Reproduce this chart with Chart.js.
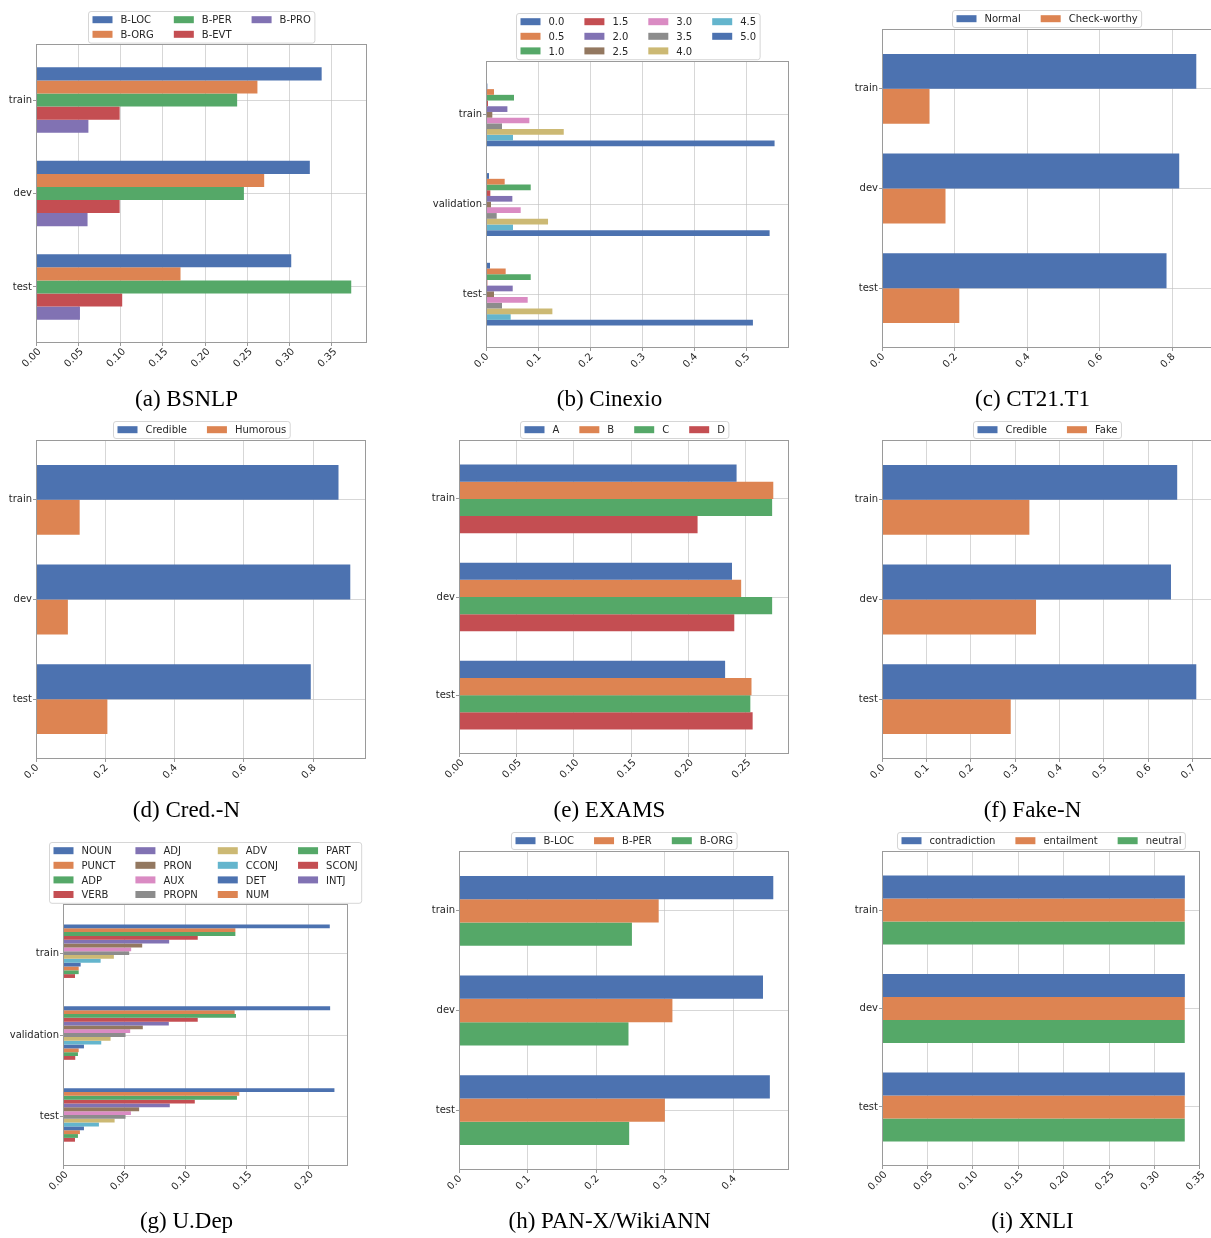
<!DOCTYPE html>
<html>
<head>
<meta charset="utf-8">
<script src="https://cdn.jsdelivr.net/npm/chart.js@4.4.1/dist/chart.umd.min.js"></script>
<style>
  html, body { margin: 0; padding: 0; background: #fff; width: 1211px; height: 1238px; overflow: hidden; position: relative; }
  canvas { position: absolute; }
  .cap { position: absolute; width: 400px; text-align: center; white-space: nowrap;
         font-family: "Liberation Serif", "Times New Roman", serif; font-size: 23px; line-height: 23px; color: #000; }
</style>
</head>
<body>
<script>
// ---------------- data: label share per split ----------------

// (a) BSNLP
const bsnlpSplits = ['train', 'dev', 'test'];
const bsnlpTags = ['B-LOC', 'B-ORG', 'B-PER', 'B-EVT', 'B-PRO'];
const bsnlpValues = [
  [0.338, 0.324, 0.302],
  [0.262, 0.270, 0.171],
  [0.238, 0.246, 0.373],
  [0.099, 0.099, 0.102],
  [0.062, 0.061, 0.052]
];

// (b) Cinexio
const cinexioSplits = ['train', 'validation', 'test'];
const cinexioScores = ['0.0', '0.5', '1.0', '1.5', '2.0', '2.5', '3.0', '3.5', '4.0', '4.5', '5.0'];
const cinexioValues = [
  [0.0026, 0.0058, 0.0077],
  [0.0153, 0.0358, 0.0377],
  [0.0537, 0.0857, 0.0857],
  [0.0038, 0.0083, 0.0026],
  [0.0410, 0.0505, 0.0512],
  [0.0121, 0.0096, 0.0153],
  [0.0831, 0.0665, 0.0799],
  [0.0307, 0.0205, 0.0307],
  [0.1490, 0.1189, 0.1272],
  [0.0518, 0.0518, 0.0473],
  [0.5530, 0.5435, 0.5115]
];

// (c) CT21.T1
const ct21Splits = ['train', 'dev', 'test'];
const ct21Classes = ['Normal', 'Check-worthy'];
const ct21Values = [
  [0.866, 0.819, 0.784],
  [0.131, 0.175, 0.213]
];

// (d) Cred.-N
const credSplits = ['train', 'dev', 'test'];
const credClasses = ['Credible', 'Humorous'];
const credValues = [
  [0.873, 0.907, 0.793],
  [0.126, 0.092, 0.206]
];

// (e) EXAMS
const examsSplits = ['train', 'dev', 'test'];
const examsAnswers = ['A', 'B', 'C', 'D'];
const examsValues = [
  [0.242, 0.238, 0.232],
  [0.274, 0.246, 0.255],
  [0.273, 0.273, 0.254],
  [0.208, 0.240, 0.256]
];

// (f) Fake-N
const fakeSplits = ['train', 'dev', 'test'];
const fakeClasses = ['Credible', 'Fake'];
const fakeValues = [
  [0.665, 0.651, 0.708],
  [0.332, 0.347, 0.290]
];

// (g) U.Dep
const udepSplits = ['train', 'validation', 'test'];
const udepTags = ['NOUN', 'PUNCT', 'ADP', 'VERB', 'ADJ', 'PRON', 'AUX', 'PROPN',
                  'ADV', 'CCONJ', 'DET', 'NUM', 'PART', 'SCONJ', 'INTJ'];
const udepValues = [
  [0.2176, 0.2179, 0.2214],
  [0.1406, 0.1400, 0.1438],
  [0.1406, 0.1411, 0.1419],
  [0.1099, 0.1099, 0.1075],
  [0.0866, 0.0863, 0.0871],
  [0.0646, 0.0651, 0.0621],
  [0.0556, 0.0548, 0.0554],
  [0.0540, 0.0510, 0.0510],
  [0.0415, 0.0388, 0.0421],
  [0.0307, 0.0312, 0.0293],
  [0.0144, 0.0171, 0.0171],
  [0.0128, 0.0128, 0.0138],
  [0.0128, 0.0122, 0.0122],
  [0.0098, 0.0100, 0.0098],
  [0.0003, 0.0005, 0.0008]
];

// (h) PAN-X/WikiANN
const panxSplits = ['train', 'dev', 'test'];
const panxTags = ['B-LOC', 'B-PER', 'B-ORG'];
const panxValues = [
  [0.458, 0.443, 0.453],
  [0.291, 0.311, 0.300],
  [0.252, 0.247, 0.248]
];

// (i) XNLI
const xnliSplits = ['train', 'dev', 'test'];
const xnliLabels = ['contradiction', 'entailment', 'neutral'];
const xnliValues = [
  [0.3334, 0.3334, 0.3334],
  [0.3333, 0.3333, 0.3333],
  [0.3333, 0.3333, 0.3333]
];

// ---------------- style ----------------
const PALETTE = ['#4C72B0', '#DD8452', '#55A868', '#C44E52', '#8172B3',
                 '#937860', '#DA8BC3', '#8C8C8C', '#CCB974', '#64B5CD'];
const FONT = "'DejaVu Sans', 'Liberation Sans', sans-serif";
const GRID = 'rgba(190,190,190,0.62)';
const SPINE = '#9a9a9a';
const TEXT = '#262626';
const PAD = { l: 80, t: 80, r: 16, b: 44 };

// legend box laid out column by column, placed just above the plot area
const legendPlugin = {
  id: 'mplLegend',
  afterDraw(chart, args, opts) {
    const ctx = chart.ctx, ca = chart.chartArea;
    const items = chart.data.datasets.map(d => ({ label: d.label, color: d.backgroundColor }));
    const ncol = opts.ncol || 1;
    const nrows = Math.ceil(items.length / ncol);
    ctx.save();
    ctx.font = '10px ' + FONT;
    const cols = [];
    for (let c = 0; c < ncol; c++) {
      const part = items.slice(c * nrows, (c + 1) * nrows);
      if (!part.length) break;
      cols.push({ items: part, w: Math.max(...part.map(it => ctx.measureText(it.label).width)) });
    }
    const HL = 20, HH = 7, HTP = 8, CS = 20, BP = 4, PITCH = 14.6;
    const W = 2 * BP + cols.reduce((s, c) => s + HL + HTP + c.w, 0) + (cols.length - 1) * CS;
    const H = 17 + (nrows - 1) * PITCH;
    const cx = (ca.left + ca.right) / 2;
    const x0 = Math.round(cx - W / 2) + 0.5;
    const y1 = ca.top - 1.7;
    const y0 = Math.round(y1 - H) + 0.5;
    ctx.beginPath();
    ctx.roundRect(x0, y0, W, H, 2.5);
    ctx.fillStyle = 'rgba(255,255,255,0.8)';
    ctx.fill();
    ctx.strokeStyle = 'rgba(204,204,204,0.8)';
    ctx.lineWidth = 1;
    ctx.stroke();
    let x = x0 + BP;
    cols.forEach(col => {
      col.items.forEach((it, r) => {
        const yc = y0 + 8.2 + r * PITCH;
        ctx.fillStyle = it.color;
        ctx.fillRect(x, yc - HH / 2, HL, HH);
        ctx.fillStyle = TEXT;
        ctx.textAlign = 'left';
        ctx.textBaseline = 'alphabetic';
        ctx.fillText(it.label, x + HL + HTP, yc + 3.65);
      });
      x += HL + HTP + col.w + CS;
    });
    ctx.restore();
  }
};

// four spines round the plot area
const framePlugin = {
  id: 'mplFrame',
  afterDraw(chart) {
    const { ctx, chartArea: a } = chart;
    ctx.save();
    ctx.strokeStyle = SPINE;
    ctx.lineWidth = 1;
    ctx.strokeRect(Math.round(a.left) + 0.5, Math.round(a.top) + 0.5,
                   Math.round(a.right - a.left) - 1, Math.round(a.bottom - a.top) - 1);
    ctx.restore();
  }
};

const measureCtx = document.createElement('canvas').getContext('2d');

function makePanel(frame, splits, series, values, opts) {
  const L = Math.round(frame.l), T = Math.round(frame.t), R = Math.round(frame.r), B = Math.round(frame.b);
  const w = R - L + PAD.l + PAD.r, h = B - T + PAD.t + PAD.b;
  const canvas = document.createElement('canvas');
  canvas.width = w; canvas.height = h;
  canvas.style.left = (L - PAD.l) + 'px';
  canvas.style.top = (T - PAD.t) + 'px';
  canvas.style.width = w + 'px';
  canvas.style.height = h + 'px';
  document.body.appendChild(canvas);

  const maxVal = Math.max(...values.flat());
  measureCtx.font = '10px ' + FONT;
  const sampleW = measureCtx.measureText((0).toFixed(opts.dec)).width;
  const shift = 0.354 * (sampleW - 12);

  const datasets = series.map((name, s) => ({
    label: name,
    data: splits.map((_, i) => ({ x: values[s][i], y: i })),
    backgroundColor: PALETTE[s % PALETTE.length],
    borderWidth: 0,
    categoryPercentage: 0.7,
    barPercentage: 1.0
  }));

  new Chart(canvas, {
    type: 'bar',
    data: { datasets },
    options: {
      indexAxis: 'y',
      responsive: false,
      animation: false,
      devicePixelRatio: 1,
      layout: { padding: { left: 0, top: PAD.t, right: PAD.r, bottom: 0 } },
      plugins: {
        legend: { display: false },
        tooltip: { enabled: false },
        mplLegend: { ncol: opts.ncol }
      },
      scales: {
        x: {
          type: 'linear', position: 'bottom', min: 0, max: maxVal * 1.05, z: 1,
          afterFit: s => { s.height = PAD.b; },
          border: { display: false },
          grid: { color: GRID, lineWidth: 1, tickLength: 3, tickColor: SPINE },
          ticks: {
            stepSize: opts.step, includeBounds: false, autoSkip: false,
            minRotation: 45, maxRotation: 45, padding: 0, labelOffset: shift,
            color: TEXT, font: { family: FONT, size: 10 },
            callback: v => Number(v).toFixed(opts.dec)
          }
        },
        y: {
          type: 'linear', min: -0.6, max: splits.length - 0.4, reverse: true,
          offset: false,
          afterFit: s => { s.width = PAD.l; },
          border: { display: false },
          grid: { color: GRID, lineWidth: 1, tickLength: 3, tickColor: SPINE, offset: false },
          ticks: {
            stepSize: 1, includeBounds: false, autoSkip: false, padding: 1,
            color: TEXT, font: { family: FONT, size: 10 },
            callback: v => (splits[v] !== undefined ? splits[v] : '')
          }
        }
      }
    },
    plugins: [legendPlugin, framePlugin]
  });
}

function caption(text, cx, baseline) {
  const d = document.createElement('div');
  d.className = 'cap';
  d.textContent = text;
  d.style.left = (cx - 200) + 'px';
  d.style.top = (baseline - 19.2) + 'px';
  document.body.appendChild(d);
}

// ---------------- panels ----------------
makePanel({ l: 36, t: 44, r: 366.7, b: 343.3 }, bsnlpSplits, bsnlpTags, bsnlpValues, { ncol: 3, step: 0.05, dec: 2 });
makePanel({ l: 486, t: 61.3, r: 789.3, b: 348.3 }, cinexioSplits, cinexioScores, cinexioValues, { ncol: 4, step: 0.1, dec: 1 });
makePanel({ l: 882.3, t: 29.3, r: 1212, b: 348.3 }, ct21Splits, ct21Classes, ct21Values, { ncol: 2, step: 0.2, dec: 1 });

makePanel({ l: 36, t: 440, r: 366.3, b: 759.3 }, credSplits, credClasses, credValues, { ncol: 2, step: 0.2, dec: 1 });
makePanel({ l: 459.3, t: 440.3, r: 789.3, b: 754.3 }, examsSplits, examsAnswers, examsValues, { ncol: 4, step: 0.05, dec: 2 });
makePanel({ l: 882.3, t: 440.3, r: 1212.4, b: 759.3 }, fakeSplits, fakeClasses, fakeValues, { ncol: 2, step: 0.1, dec: 1 });

makePanel({ l: 63, t: 904, r: 348.3, b: 1166 }, udepSplits, udepTags, udepValues, { ncol: 4, step: 0.05, dec: 2 });
makePanel({ l: 459.3, t: 851.3, r: 789.3, b: 1170.3 }, panxSplits, panxTags, panxValues, { ncol: 3, step: 0.1, dec: 1 });
makePanel({ l: 882.3, t: 851.3, r: 1200.3, b: 1166 }, xnliSplits, xnliLabels, xnliValues, { ncol: 3, step: 0.05, dec: 2 });

caption('(a) BSNLP', 186.5, 406);
caption('(b) Cinexio', 609.5, 406);
caption('(c) CT21.T1', 1032.5, 406);
caption('(d) Cred.-N', 186.5, 817);
caption('(e) EXAMS', 609.5, 817);
caption('(f) Fake-N', 1032.5, 817);
caption('(g) U.Dep', 186.5, 1228);
caption('(h) PAN-X/WikiANN', 609.5, 1228);
caption('(i) XNLI', 1032.5, 1228);
</script>
</body>
</html>
